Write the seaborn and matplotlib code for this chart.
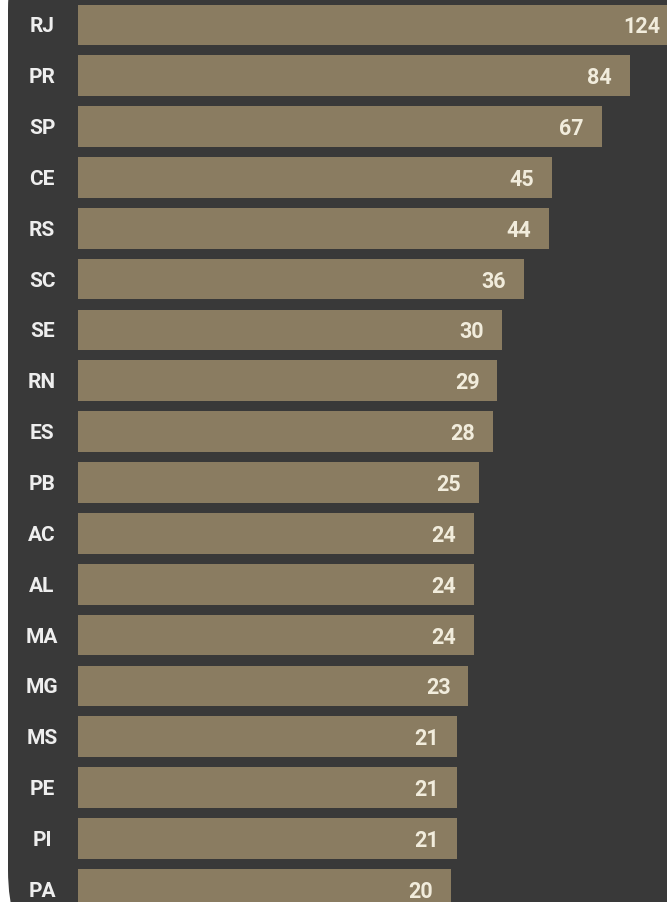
import numpy as np
import pandas as pd
import matplotlib
matplotlib.use("Agg")
import matplotlib.pyplot as plt
from matplotlib.patches import FancyBboxPatch
import seaborn as sns

# Données
estados = ["RJ", "PR", "SP", "CE", "RS", "SC", "SE", "RN", "ES",
           "PB", "AC", "AL", "MA", "MG", "MS", "PE", "PI", "PA"]
valores = [124, 84, 67, 45, 44, 36, 30, 29, 28,
           25, 24, 24, 24, 23, 21, 21, 21, 20]

df = pd.DataFrame({"estado": estados, "valor": valores})

bg = "#393939"
bar_color = "#8a7c61"
txt_color = "#f1ecdc"

sns.set_style("dark")
plt.rcParams["font.family"] = ["Roboto", "DejaVu Sans"]

fig = plt.figure(figsize=(6.67, 9.02), dpi=100, facecolor="white")

# fond sombre avec coin arrondi (en pixels)
fond = FancyBboxPatch((8, -88), 900, 1100, boxstyle="round,pad=0,rounding_size=120",
                      transform=None, facecolor=bg, edgecolor="none", zorder=-1)
fig.patches.append(fond)

ax = fig.add_axes([77.5 / 667, 0, 1 - 77.5 / 667, 1])
ax.set_facecolor(bg)
ax.patch.set_alpha(0)

sns.barplot(data=df, x="valor", y="estado", orient="h", color=bar_color,
            saturation=1, width=0.8, linewidth=0, edgecolor="none", ax=ax)

ax.set_xscale("log")
ax.set_xlim(1, 113)
ax.set_ylim(17.25, -0.49)

for i, v in enumerate(valores):
    ax.annotate(str(v), xy=(v, i), xytext=(-18, 0), textcoords="offset pixels",
                ha="right", va="center_baseline", color=txt_color, fontsize=15.5,
                fontweight="bold", annotation_clip=False)

ax.set_xlabel("")
ax.set_ylabel("")
ax.set_xticks([])
ax.xaxis.set_minor_locator(matplotlib.ticker.NullLocator())
ax.tick_params(axis="y", length=0, pad=25.5, labelcolor="#eeeeee", labelsize=15)
for lab in ax.get_yticklabels():
    lab.set_horizontalalignment("center")
    lab.set_fontweight("bold")
ax.grid(False)
for s in ax.spines.values():
    s.set_visible(False)

fig.savefig("out.png", dpi=100, facecolor="white")
